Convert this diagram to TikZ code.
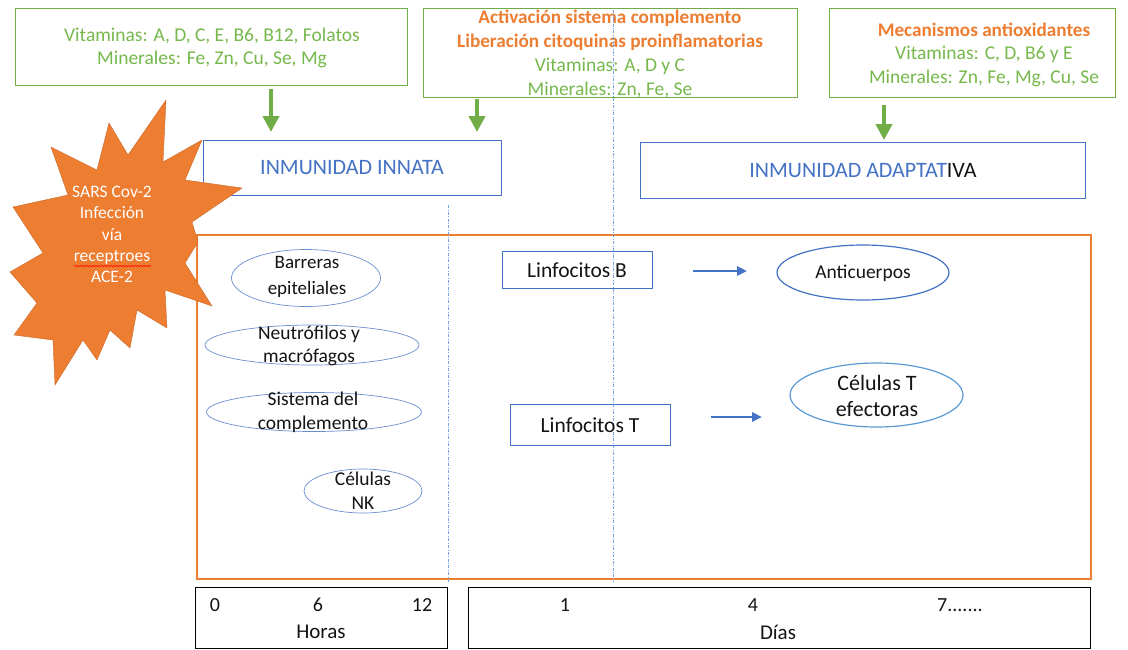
\documentclass[tikz,border=0pt]{standalone}
\usepackage{fontspec}
\setmainfont{Carlito}
\usetikzlibrary{arrows.meta,decorations.pathmorphing,shapes.geometric}
\definecolor{vgreen}{RGB}{112,173,71}
\definecolor{tgreen}{RGB}{118,184,76}
\definecolor{vorange}{RGB}{237,125,49}
\definecolor{vblue}{RGB}{68,114,196}
\definecolor{lblue}{RGB}{91,155,213}
\definecolor{dblue}{RGB}{120,160,220}
\definecolor{txtblack}{RGB}{20,20,20}
\begin{document}
\begin{tikzpicture}[x=1pt,y=-1pt,
  gbox/.style={draw=vgreen,line width=1.2pt,rectangle,inner sep=0,anchor=north west},
  bbox/.style={draw=vblue,line width=1.3pt,rectangle,inner sep=0,anchor=north west},
  kbox/.style={draw=black,line width=1.4pt,rectangle,inner sep=0,anchor=north west},
  obox/.style={draw=vorange,line width=2.4pt,rectangle,inner sep=0,anchor=north west},
  ell/.style={draw=vblue!80,line width=0.7pt,ellipse,inner sep=0},
  gtxt/.style={text=tgreen,align=center,inner sep=0,font=\fontsize{19.5}{24}\selectfont},
  otxt/.style={text=vorange,align=center,inner sep=0,font=\fontsize{19.2}{24}\selectfont\bfseries},
  ktxt/.style={text=txtblack,align=center,inner sep=0,font=\fontsize{19.5}{24}\selectfont},
  garrow/.style={draw=vgreen,line width=4.5pt,-{Triangle[width=16pt,length=16pt]}},
  barrow/.style={draw=vblue,line width=2.8pt,-{Triangle[width=9pt,length=10pt]}},
  vline/.style={draw=dblue,line width=0.6pt,dash pattern=on 3pt off 1.5pt on 0.8pt off 1.5pt}
]
\useasboundingbox (0,0) rectangle (1128,649);
\fill[white] (0,0) rectangle (1128,649);

% top green boxes
\node[gbox,minimum width=392,minimum height=77] (g1) at (15,8) {};
\node[gtxt,font=\fontsize{19.5}{23}\selectfont] (g1t) at (212,47.5) {Vitaminas: A, D, C, E, B6, B12, Folatos\\Minerales: Fe, Zn, Cu, Se, Mg};

\node[gbox,minimum width=374,minimum height=89] (g2) at (423,8) {};
\node[otxt] (g2a) at (610,30) {Activación sistema complemento\\Liberación citoquinas proinflamatorias};
\node[gtxt] (g2b) at (610,78) {Vitaminas: A, D y C\\Minerales: Zn, Fe, Se};

\node[gbox,minimum width=286,minimum height=89] (g3) at (829,8) {};
\node[otxt] (g3a) at (984,30) {Mecanismos antioxidantes};
\node[gtxt] (g3b) at (984,66) {Vitaminas: C, D, B6 y E\\Minerales: Zn, Fe, Mg, Cu, Se};

% dashed vertical lines
\coordinate (d1t) at (448,205);
\coordinate (d1b) at (448,582);
\coordinate (d2t) at (613,10);
\coordinate (d2b) at (613,582);

% green arrows
\coordinate (a1s) at (271,89);  \coordinate (a1e) at (271,132);
\coordinate (a2s) at (477,99);  \coordinate (a2e) at (477,132);
\coordinate (a3s) at (884,105); \coordinate (a3e) at (884,140);
\draw[garrow] (a1s) -- (a1e);
\draw[garrow] (a2s) -- (a2e);
\draw[garrow] (a3s) -- (a3e);

% immunity boxes
\node[bbox,minimum width=298,minimum height=55] (inn) at (203,140) {};
\node[text=vblue,inner sep=0,font=\fontsize{22}{26}\selectfont] (innt) at (352,168) {INMUNIDAD INNATA};
\node[bbox,minimum width=445,minimum height=56] (ada) at (640,142) {};
\node[inner sep=0,font=\fontsize{22}{26}\selectfont] (adat) at (863,171) {\textcolor{vblue}{INMUNIDAD ADAPTAT}\textcolor{txtblack}{IVA}};

% big orange box
\node[obox,minimum width=894,minimum height=344] (big) at (196,233.5) {};

\draw[vline] (d1t) -- (d1b);
\draw[vline] (d2t) -- (d2b);

% innate ellipses
\node[ell,minimum width=149,minimum height=57] (barr) at (306,278) {};
\node[ktxt,font=\fontsize{19}{26}\selectfont] (barrt) at (307,277) {Barreras\\epiteliales};
\node[ell,minimum width=214,minimum height=40] (neut) at (312,345) {};
\node[ktxt,font=\fontsize{19.5}{23}\selectfont] (neutt) at (309,345.5) {Neutrófilos y\\macrófagos};
\node[ell,minimum width=215,minimum height=39] (sist) at (314,412) {};
\node[ktxt,font=\fontsize{19.5}{24}\selectfont] (sistt) at (313,412) {Sistema del\\complemento};
\node[ell,minimum width=118,minimum height=44] (nk) at (363,491) {};
\node[ktxt,font=\fontsize{19.5}{24}\selectfont] (nkt) at (363,491) {Células\\NK};

% adaptive
\node[bbox,line width=1.2pt,minimum width=150,minimum height=37] (lb) at (502,251) {};
\node[ktxt,font=\fontsize{21.5}{24}\selectfont] (lbt) at (577,270) {Linfocitos B};
\node[bbox,line width=1.2pt,minimum width=160,minimum height=41] (lt) at (510,404) {};
\node[ktxt,font=\fontsize{21.5}{24}\selectfont] (ltt) at (590,425) {Linfocitos T};

\coordinate (b1s) at (693,271); \coordinate (b1e) at (747,271);
\coordinate (b2s) at (711,417); \coordinate (b2e) at (762,417);
\draw[barrow] (b1s) -- (b1e);
\draw[barrow] (b2s) -- (b2e);

\node[ell,draw=vblue,line width=1.2pt,minimum width=172,minimum height=55] (anti) at (863,272.5) {};
\node[ktxt,font=\fontsize{19.5}{22}\selectfont] (antit) at (863,273) {Anticuerpos};
\node[ell,draw=lblue,line width=1.2pt,minimum width=173,minimum height=64] (tef) at (876.5,395) {};
\node[ktxt,font=\fontsize{22}{26}\selectfont] (teft) at (877,396) {Células T\\efectoras};

% time boxes
\node[kbox,minimum width=252,minimum height=61] (hbox) at (195,586.5) {};
\node[ktxt,font=\fontsize{20}{22}\selectfont] (h0) at (215,605) {0};
\node[ktxt,font=\fontsize{20}{22}\selectfont] (h6) at (318,605) {6};
\node[ktxt,font=\fontsize{20}{22}\selectfont] (h12) at (422,605) {12};
\node[ktxt,font=\fontsize{21}{22}\selectfont] (hlab) at (321,632) {Horas};

\node[kbox,minimum width=622,minimum height=61] (dbox) at (468,586.5) {};
\node[ktxt,font=\fontsize{20}{22}\selectfont] (d1) at (565,605) {1};
\node[ktxt,font=\fontsize{20}{22}\selectfont] (d4) at (753,605) {4};
\node[ktxt,font=\fontsize{20}{22}\selectfont,anchor=west] (d7) at (937,605) {7.......};
\node[ktxt,font=\fontsize{21}{22}\selectfont] (dlab) at (778,632) {Días};

% star
\filldraw[fill=vorange,draw=vorange!85!black,line width=0.4pt]
 (166,100) -- (163,162) -- (202,140) -- (185,180) -- (242,188) -- (192,222) -- (198,242) -- (185,263)
 -- (212,306) -- (165,290) -- (167,328) -- (137,310) -- (130,348) -- (110,330) -- (97,360)
 -- (83,340) -- (55,385) -- (53,340) -- (14,335) -- (37,303) -- (10,272) -- (43,253)
 -- (13,207) -- (68,195) -- (51,147) -- (97,170) -- (109,123) -- (128,155) -- cycle;
\node[text=white,align=center,inner sep=0,font=\fontsize{17.5}{21.3}\selectfont] (star) at (112,234.5)
 {SARS Cov-2\\Infección\\vía\\receptroes\\ACE-2};
\coordinate (sq1) at (74,266);
\coordinate (sq2) at (151,266);
\draw[red,line width=0.5pt,decorate,decoration={snake,amplitude=0.7pt,segment length=3pt}] (sq1) -- (sq2);
\end{tikzpicture}
\end{document}
